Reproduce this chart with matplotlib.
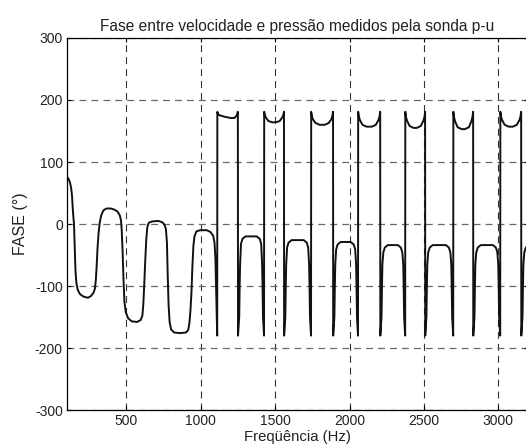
import matplotlib
matplotlib.use("Agg")
import matplotlib.pyplot as plt

# frequency (Hz) and phase (degrees)
# low-frequency part, before the phase starts wrapping
freq_low = [100, 110, 120, 128, 134, 140, 147, 152, 157, 163, 172, 187, 210, 241, 262,
            278, 288, 294, 299, 305, 312, 320, 330, 345, 365, 395, 420, 440, 455, 463,
            468, 474, 480, 486, 495, 511, 535, 571, 595, 607, 613, 619, 626, 633, 640,
            650, 670, 712, 740, 755, 765, 772, 777, 783, 790, 800, 820, 861, 900, 915,
            923, 930, 937, 943, 950, 957, 970, 995, 1040, 1065, 1083, 1092, 1098, 1103,
            1108, 1110]
phase_low = [76, 73, 67, 58, 45, 20, 0, -40, -75, -95, -106, -113, -117, -119, -116,
             -111, -104, -90, -70, -40, -15, 2, 14, 22, 25, 25, 23, 20, 14, 6,
             -10, -45, -90, -125, -142, -152, -157, -158, -155, -148, -130, -100, -60, -25, -5,
             2, 4, 5, 3, -1, -8, -30, -80, -130, -158, -170, -175, -176, -175, -171,
             -160, -140, -110, -70, -35, -20, -12, -10, -10, -13, -19, -30, -55, -110,
             -160, -180]

# wrapped part: cups near +180 and arches below 0
freq_high = [1111, 1116, 1130, 1160, 1200, 1225, 1238, 1245, 1249, 1250,
             1258, 1261, 1264, 1270, 1280, 1300, 1376, 1396, 1406, 1412, 1415, 1418, 1425,
             1426, 1430, 1437, 1455, 1482, 1503, 1530, 1548, 1555, 1559, 1560,
             1568, 1571, 1574, 1580, 1590, 1610, 1692, 1712, 1722, 1728, 1731, 1734, 1741,
             1742, 1746, 1753, 1771, 1798, 1833, 1860, 1878, 1885, 1889, 1890,
             1898, 1901, 1904, 1910, 1920, 1940, 2008, 2028, 2038, 2044, 2047, 2050, 2057,
             2058, 2062, 2069, 2087, 2114, 2150, 2177, 2195, 2202, 2206, 2207,
             2215, 2218, 2221, 2227, 2237, 2257, 2325, 2345, 2355, 2361, 2364, 2367, 2374,
             2375, 2379, 2386, 2404, 2431, 2452, 2479, 2497, 2504, 2508, 2509,
             2517, 2520, 2523, 2529, 2539, 2559, 2648, 2668, 2678, 2684, 2687, 2690, 2697,
             2698, 2702, 2709, 2727, 2754, 2775, 2802, 2820, 2827, 2831, 2832,
             2840, 2843, 2846, 2852, 2862, 2882, 2964, 2984, 2994, 3000, 3003, 3006, 3013,
             3014, 3018, 3025, 3043, 3070, 3098, 3125, 3143, 3150, 3154, 3155,
             3163, 3166, 3169, 3175, 3185, 3205, 3240]
phase_high = [181, 177, 175, 173, 171, 171, 174, 177, 181, -180,
              -150, -100, -65, -32, -24, -20, -20, -24, -32, -65, -100, -150, -180,
              181, 176, 172, 166, 164, 164, 166, 172, 176, 181, -180,
              -150, -100, -65, -38, -30, -26, -26, -30, -38, -65, -100, -150, -180,
              181, 175, 169, 163, 160, 160, 163, 169, 175, 181, -180,
              -150, -100, -65, -41, -33, -29, -29, -33, -41, -65, -100, -150, -180,
              181, 174, 168, 160, 157, 157, 160, 168, 174, 181, -180,
              -150, -100, -65, -46, -38, -34, -34, -38, -46, -65, -100, -150, -180,
              181, 173, 167, 158, 155, 155, 158, 167, 173, 181, -180,
              -150, -100, -65, -46, -38, -34, -34, -38, -46, -65, -100, -150, -180,
              181, 173, 166, 156, 153, 153, 156, 166, 173, 181, -180,
              -150, -100, -65, -46, -38, -34, -34, -38, -46, -65, -100, -150, -180,
              181, 174, 168, 160, 157, 157, 160, 168, 174, 181, -180,
              -150, -100, -65, -46, -38, -34, -34]

x_ticks = [500, 1000, 1500, 2000, 2500, 3000]
y_ticks = [-300, -200, -100, 0, 100, 200, 300]

plt.rcParams["font.family"] = ["Liberation Sans", "DejaVu Sans"]
plt.rcParams["axes.unicode_minus"] = False
plt.rcParams["lines.scale_dashes"] = False

fig = plt.figure(figsize=(5.26, 4.48), dpi=100)
ax = fig.add_axes([67 / 526, 38 / 448, 461 / 526, 372 / 448])

ax.plot(freq_low + freq_high, phase_low + phase_high, color="#111111", lw=1.4,
        solid_joinstyle="round")

ax.set_xlim(100, 3200)
ax.set_ylim(-300, 300)
ax.set_xticks(x_ticks)
ax.set_yticks(y_ticks)
ax.grid(True, axis="x", color="#333333", linestyle=(0, (5, 3.6)), linewidth=0.8)
ax.grid(True, axis="y", color="#6a6a6a", linestyle=(0, (5, 3.6)), linewidth=0.9)
ax.tick_params(direction="in", top=True, right=True, labelsize=10, length=3, pad=3,
               labelcolor="#222222")
for s in ax.spines.values():
    s.set_linewidth(0.9)

ax.set_title("Fase entre velocidade e pressão medidos pela sonda p-u", fontsize=11.2, pad=5,
             color="#222222")
ax.set_xlabel("Freqüência (Hz)", fontsize=10.7, labelpad=1, color="#222222")
ax.set_ylabel("FASE (°)", fontsize=11.5, labelpad=5, color="#222222")

plt.savefig("out.png", dpi=100)
plt.close()
